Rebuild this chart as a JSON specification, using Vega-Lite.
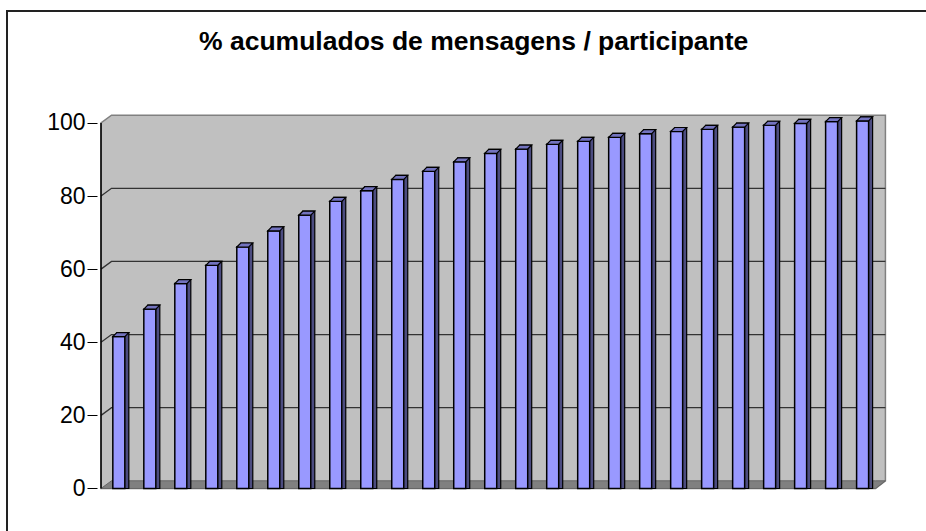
{
  "$schema": "https://vega.github.io/schema/vega-lite/v6.json",
  "autosize": "none",
  "width": 926,
  "height": 527,
  "padding": {"left": 7, "top": 11, "right": -7, "bottom": -7},
  "background": "white",
  "title": {
    "text": "% acumulados de mensagens / participante",
    "font": "Liberation Sans",
    "fontSize": 26.5,
    "fontWeight": "bold",
    "color": "black",
    "anchor": "start",
    "offset": -44,
    "dx": 192
  },
  "config": {
    "view": {"stroke": "#222222", "strokeWidth": 2, "fill": "white"}
  },
  "datasets": {
    "bars": [
      {"i": 1, "v": 41.0}, {"i": 2, "v": 48.5}, {"i": 3, "v": 55.5}, {"i": 4, "v": 60.5},
      {"i": 5, "v": 65.5}, {"i": 6, "v": 69.9}, {"i": 7, "v": 74.2}, {"i": 8, "v": 78.0},
      {"i": 9, "v": 80.9}, {"i": 10, "v": 84.0}, {"i": 11, "v": 86.2}, {"i": 12, "v": 88.8},
      {"i": 13, "v": 91.1}, {"i": 14, "v": 92.3}, {"i": 15, "v": 93.6}, {"i": 16, "v": 94.4},
      {"i": 17, "v": 95.5}, {"i": 18, "v": 96.5}, {"i": 19, "v": 97.1}, {"i": 20, "v": 97.7},
      {"i": 21, "v": 98.3}, {"i": 22, "v": 98.8}, {"i": 23, "v": 99.3}, {"i": 24, "v": 99.8},
      {"i": 25, "v": 100.0}
    ],
    "wall": [
      {"x": 0.4255, "lo": 0, "hi": 100},
      {"x": 0.764, "lo": 0, "hi": 102.1},
      {"x": 25.417, "lo": 0, "hi": 102.1},
      {"x": 25.736, "lo": 2.1, "hi": 102.1}
    ],
    "floor": [
      {"x": 0.4255, "lo": 0, "hi": 0},
      {"x": 0.764, "lo": 0, "hi": 2.1},
      {"x": 25.417, "lo": 0, "hi": 2.1},
      {"x": 25.736, "lo": 2.1, "hi": 2.1}
    ],
    "grid": [
      {"g": 20, "x": 0.4255, "y": 20}, {"g": 20, "x": 0.764, "y": 22.1}, {"g": 20, "x": 25.736, "y": 22.1},
      {"g": 40, "x": 0.4255, "y": 40}, {"g": 40, "x": 0.764, "y": 42.1}, {"g": 40, "x": 25.736, "y": 42.1},
      {"g": 60, "x": 0.4255, "y": 60}, {"g": 60, "x": 0.764, "y": 62.1}, {"g": 60, "x": 25.736, "y": 62.1},
      {"g": 80, "x": 0.4255, "y": 80}, {"g": 80, "x": 0.764, "y": 82.1}, {"g": 80, "x": 25.736, "y": 82.1}
    ]
  },
  "layer": [
    {
      "data": {"name": "wall"},
      "mark": {"type": "area", "orient": "vertical", "fill": "#C0C0C0", "stroke": "#808080", "strokeWidth": 1.5},
      "encoding": {
        "x": {"field": "x", "type": "quantitative", "scale": {"domain": [-2.447, 27.11], "nice": false, "zero": false}, "axis": null},
        "y": {"field": "lo", "type": "quantitative", "scale": {"domain": [-13.54, 130.6], "nice": false, "zero": false},
          "axis": {"values": [0, 20, 40, 60, 80, 100], "offset": -90, "domain": false, "grid": false, "ticks": true, "tickSize": 10, "tickColor": "#000000", "tickWidth": 1, "labelFont": "Liberation Sans", "labelFontSize": 23, "labelColor": "#000000", "labelPadding": 2, "title": null}},
        "y2": {"field": "hi"}
      }
    },
    {
      "data": {"name": "floor"},
      "mark": {"type": "area", "orient": "vertical", "fill": "#808080", "stroke": "#666666", "strokeWidth": 1},
      "encoding": {
        "x": {"field": "x", "type": "quantitative"},
        "y": {"field": "lo", "type": "quantitative"},
        "y2": {"field": "hi"}
      }
    },
    {
      "data": {"name": "grid"},
      "mark": {"type": "line", "stroke": "#333333", "strokeWidth": 1.3},
      "encoding": {
        "x": {"field": "x", "type": "quantitative"},
        "y": {"field": "y", "type": "quantitative"},
        "detail": {"field": "g"}
      }
    },
    {
      "data": {"values": [{}]},
      "mark": {"type": "rule", "stroke": "#000000", "strokeWidth": 1.5},
      "encoding": {
        "x": {"datum": 0.4255, "type": "quantitative"},
        "y": {"datum": 0, "type": "quantitative"},
        "y2": {"datum": 100}
      }
    },
    {
      "data": {"name": "bars"},
      "mark": {"type": "bar", "orient": "vertical", "size": 12, "xOffset": 4, "yOffset": -6, "fill": "#4C4C80", "stroke": "#000000", "strokeWidth": 1.2},
      "encoding": {
        "x": {"field": "i", "type": "quantitative"},
        "y": {"field": "v", "type": "quantitative", "stack": null}
      }
    },
    {
      "data": {"name": "bars"},
      "mark": {"type": "bar", "orient": "vertical", "size": 12, "yOffset": -2, "fill": "#9999FF", "stroke": "#000000", "strokeWidth": 1.5},
      "encoding": {
        "x": {"field": "i", "type": "quantitative"},
        "y": {"field": "v", "type": "quantitative", "stack": null}
      }
    },
    {
      "data": {"name": "bars"},
      "mark": {"type": "point", "shape": "M -0.75 0 L 0.75 0 L 1.25 -0.5 L -0.25 -0.5 Z", "size": 256, "filled": true, "opacity": 1, "yOffset": -2, "fill": "#7373BF", "stroke": "#000000", "strokeWidth": 1.2},
      "encoding": {
        "x": {"field": "i", "type": "quantitative"},
        "y": {"field": "v", "type": "quantitative"}
      }
    }
  ]
}
